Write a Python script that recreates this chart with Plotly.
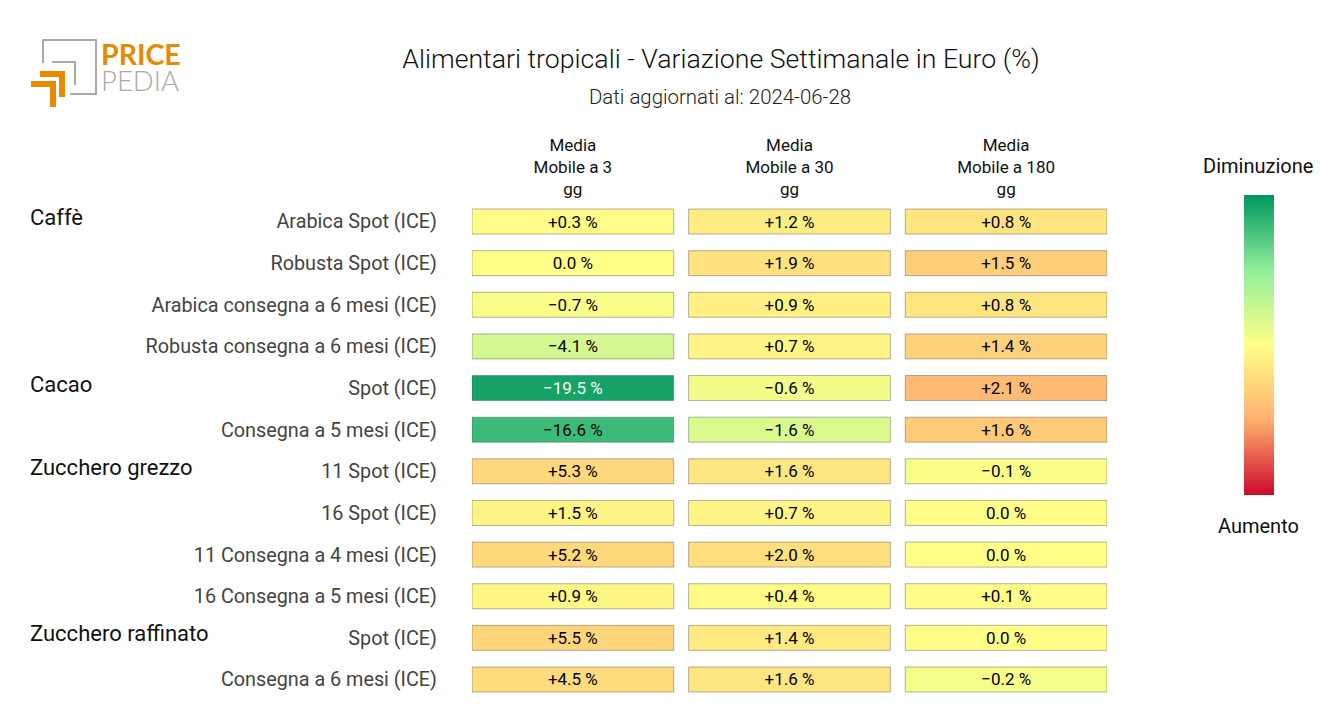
import plotly.graph_objects as go

W, H = 1320, 720
row_labels = ["Arabica Spot (ICE)", "Robusta Spot (ICE)", "Arabica consegna a 6 mesi (ICE)",
              "Robusta consegna a 6 mesi (ICE)", "Spot (ICE)", "Consegna a 5 mesi (ICE)",
              "11 Spot (ICE)", "16 Spot (ICE)", "11 Consegna a 4 mesi (ICE)",
              "16 Consegna a 5 mesi (ICE)", "Spot (ICE)", "Consegna a 6 mesi (ICE)"]
group_labels = ["Caffè", "Cacao", "Zucchero grezzo", "Zucchero raffinato"]
group_rows = [0, 4, 6, 10]
col_labels = ["Media<br>Mobile a 3<br>gg", "Media<br>Mobile a 30<br>gg", "Media<br>Mobile a 180<br>gg"]
ma3 = [0.3, 0.0, -0.7, -4.1, -19.5, -16.6, 5.3, 1.5, 5.2, 0.9, 5.5, 4.5]
ma30 = [1.2, 1.9, 0.9, 0.7, -0.6, -1.6, 1.6, 0.7, 2.0, 0.4, 1.4, 1.6]
ma180 = [0.8, 1.5, 0.8, 1.4, 2.1, 1.6, -0.1, 0.0, 0.0, 0.1, 0.0, -0.2]
col_limits = [21, 10, 4.8]
color_stops = [[0, "#cc0a2a"], [0.25, "#ffb070"], [0.5, "#ffff88"], [0.75, "#90ee9a"], [1, "#00965f"]]
rows = list(range(len(row_labels)))
ROBOTO = "Roboto"


def px(x):
    return x / W


def py(y):
    return 1 - y / H


def fmt(v):
    if v == 0:
        return "0.0 %"
    return f"{'+' if v > 0 else '−'}{abs(v):.1f} %"


fig = go.Figure()
CELL = 201.5 / 216.4
for i, (vals, lim) in enumerate(zip([ma3, ma30, ma180], col_limits)):
    marker = dict(color=[-v for v in vals], cmin=-lim, cmax=lim, colorscale=color_stops,
                  line=dict(color="rgba(70,70,70,0.4)", width=1))
    if i == 0:
        marker.update(showscale=True, colorbar=dict(
            thickness=30, thicknessmode="pixels", len=300, lenmode="pixels",
            x=px(1244), xanchor="left", y=py(195), yanchor="top", xpad=0, ypad=0,
            outlinewidth=0, showticklabels=False, ticks=""))
    fig.add_trace(go.Bar(
        y=rows, x=[CELL] * len(rows), base=[i] * len(rows), orientation="h", width=0.6,
        marker=marker, text=[fmt(v) for v in vals], textposition="inside",
        insidetextanchor="middle", constraintext="none", textangle=0,
        textfont=dict(family=ROBOTO, size=17,
                      color=["white" if abs(v) >= 18 else "black" for v in vals]),
        hoverinfo="skip", showlegend=False))

shapes = [
    dict(type="path", xref="paper", yref="paper",
         path=f"M{px(43)},{py(63)} L{px(43)},{py(40)} L{px(96)},{py(40)} L{px(96)},{py(94)} L{px(70)},{py(94)}",
         line=dict(color="#a9a9a9", width=2)),
    dict(type="path", xref="paper", yref="paper",
         path=f"M{px(52)},{py(62)} L{px(75)},{py(62)} L{px(75)},{py(85)}",
         line=dict(color="#a9a9a9", width=2)),
    dict(type="path", xref="paper", yref="paper", fillcolor="#e68a00", line=dict(width=0),
         path=f"M{px(40)},{py(71)} L{px(65)},{py(71)} L{px(65)},{py(97)} L{px(59)},{py(97)} L{px(59)},{py(77)} L{px(40)},{py(77)} Z"),
    dict(type="path", xref="paper", yref="paper", fillcolor="#e68a00", line=dict(width=0),
         path=f"M{px(31)},{py(81)} L{px(56)},{py(81)} L{px(56)},{py(107)} L{px(50)},{py(107)} L{px(50)},{py(87)} L{px(31)},{py(87)} Z"),
]

annotations = [
    dict(text=lab, x=px(27.5), xref="paper", xanchor="left", y=r, yref="y", yanchor="middle", yshift=4,
         showarrow=False, font=dict(family=ROBOTO, size=22, color="#111"))
    for lab, r in zip(group_labels, group_rows)
]
annotations += [
    dict(text="Dati aggiornati al: 2024-06-28", x=px(720), y=py(97), xref="paper", yref="paper",
         xanchor="center", yanchor="middle", showarrow=False,
         font=dict(family=ROBOTO, size=20.4, color="#222", weight=300)),
    dict(text="Diminuzione", x=px(1258), y=py(166), xref="paper", yref="paper", xanchor="center",
         yanchor="middle", showarrow=False, font=dict(family=ROBOTO, size=20, color="#111")),
    dict(text="Aumento", x=px(1258), y=py(526), xref="paper", yref="paper", xanchor="center",
         yanchor="middle", showarrow=False, font=dict(family=ROBOTO, size=20, color="#111")),
    dict(text="<b>PRICE</b>", x=px(99), y=py(54), xref="paper", yref="paper", xanchor="left",
         yanchor="middle", showarrow=False, font=dict(family="Lato", size=28.5, color="#e68a00")),
    dict(text="PEDIA", x=px(99), y=py(80), xref="paper", yref="paper", xanchor="left",
         yanchor="middle", showarrow=False, font=dict(family="Lato", size=27.5, color="#a9a9a9", weight=300)),
]

fig.update_layout(
    width=W, height=H, margin=dict(l=0, r=0, t=0, b=0), paper_bgcolor="white", plot_bgcolor="white",
    barmode="overlay",
    title=dict(text="Alimentari tropicali - Variazione Settimanale in Euro (%)", x=px(721), xanchor="center",
               y=py(58.5), yanchor="middle", font=dict(family=ROBOTO, size=26.7, color="#111", weight=300)),
    font=dict(family=ROBOTO),
    xaxis=dict(domain=[px(472), px(1107)], range=[0, 2 + CELL], side="top", tickvals=[CELL / 2 + i for i in range(3)],
               ticktext=col_labels, showgrid=False, zeroline=False, showline=False, ticks="", fixedrange=True,
               ticklabelstandoff=1,
               tickfont=dict(family=ROBOTO, size=17, color="#111"), tickangle=0),
    yaxis=dict(domain=[py(700.3), py(200.7)], range=[11.5, -0.5], tickvals=rows, ticktext=row_labels,
               showgrid=False, zeroline=False, showline=False, ticks="", ticklabelstandoff=34, fixedrange=True,
               tickfont=dict(family=ROBOTO, size=19.8, color="#444")),
    shapes=shapes, annotations=annotations,
)
fig.write_html("out.html", config={"displayModeBar": False},
               post_script="document.body.style.margin='0';document.documentElement.style.overflow='hidden';window.dispatchEvent(new Event('resize'));")
